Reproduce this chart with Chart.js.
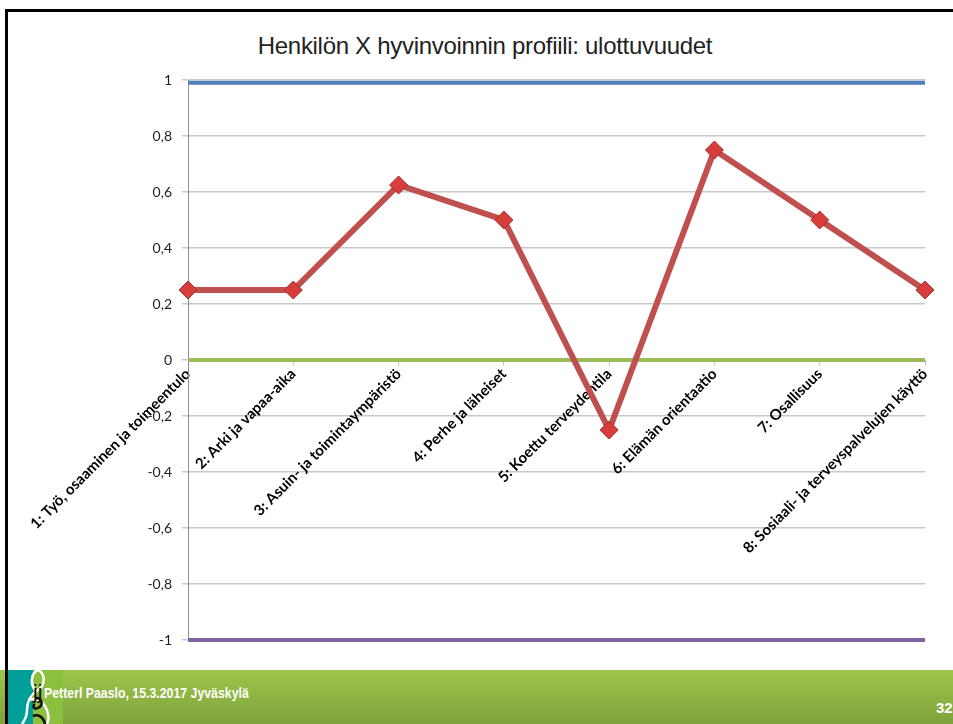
<!DOCTYPE html>
<html lang="fi">
<head>
    <meta charset="UTF-8">
    <title>Henkilön X hyvinvoinnin profiili</title>
    <style>
        body {
            margin: 0;
            padding: 0;
            width: 953px;
            height: 724px;
            background: #ffffff;
            overflow: hidden;
            position: relative;
            font-family: Lato, "Open Sans", sans-serif;
        }

        #chart-box {
            position: absolute;
            left: 0;
            top: 0;
            width: 953px;
            height: 668px;
        }

        h1 {
            position: absolute;
            left: 0;
            top: 32px;
            width: 970px;
            margin: 0;
            text-align: center;
            font-family: "Liberation Sans", Arial, sans-serif;
            font-weight: normal;
            font-size: 24px;
            line-height: 28px;
            color: #222;
            letter-spacing: -0.3px;
        }

        .border-top {
            position: absolute;
            left: 5px;
            top: 9px;
            width: 948px;
            height: 3px;
            background: #000;
        }

        .border-left {
            position: absolute;
            left: 5px;
            top: 9px;
            width: 3px;
            height: 715px;
            background: #000;
            z-index: 3;
        }

        .footer {
            position: absolute;
            left: 0;
            top: 670px;
            width: 953px;
            height: 54px;
            background: linear-gradient(#9dc64c, #7ea33a);
        }

        .footer .teal {
            position: absolute;
            left: 5px;
            top: 0;
            width: 28px;
            height: 54px;
            background: #009e98;
        }

        .footer .strip {
            position: absolute;
            left: 33px;
            top: 0;
            width: 30px;
            height: 54px;
            background: #8dbf3f;
        }

        .footer svg {
            position: absolute;
            left: 0;
            top: 0;
        }

        .footer .jj {
            position: absolute;
            left: 33px;
            top: 10px;
            color: #111;
            font-family: "Liberation Sans", Arial, sans-serif;
            font-size: 21px;
        }

        .footer .who {
            position: absolute;
            left: 44px;
            top: 15px;
            color: #fff;
            font-weight: bold;
            font-family: "Liberation Sans", Arial, sans-serif;
            font-size: 14px;
            transform: scaleX(0.88);
            transform-origin: left top;
            white-space: nowrap;
        }

        .footer .page {
            position: absolute;
            left: 936px;
            top: 29px;
            color: #fff;
            font-weight: bold;
            font-family: "Liberation Sans", Arial, sans-serif;
            font-size: 15px;
        }
    </style>
</head>
<body>
    <div class="border-top"></div>
    <div class="border-left"></div>
    <h1 id="chart-title"></h1>
    <div id="chart-box"><canvas id="profile-chart"></canvas></div>
    <div class="footer">
        <div class="teal"></div>
        <div class="strip"></div>
        <svg width="70" height="54" viewBox="0 0 70 54">
            <path d="M35 20 C 30 14, 31 3, 38 0 M 38 0 C 46 4, 45 16, 38 20 C 30 25, 27 32, 27 40 C 27 46, 25 50, 22 54" fill="none" stroke="#fff" stroke-width="2.5"/>
            <path d="M30 30 C 38 26, 46 34, 48 44 C 49 48, 48 52, 47 54" fill="none" stroke="#fff" stroke-width="2.5"/>
            <path d="M35 28 C 42 27, 44 35, 38 38 C 34 40, 32 36, 35 34" fill="none" stroke="#111" stroke-width="2.5"/>
            <path d="M33 46 C 38 44, 44 47, 45 54" fill="none" stroke="#111" stroke-width="2.5"/>
        </svg>
        <span class="jj">jj</span>
        <span class="who">Petterl Paaslo, 15.3.2017 Jyväskylä</span>
        <span class="page">32</span>
    </div>

    <script src="https://cdn.jsdelivr.net/npm/chart.js"></script>
    <script>
        const chartTitle = 'Henkilön X hyvinvoinnin profiili: ulottuvuudet';

        const categories = [
            '1: Työ, osaaminen ja toimeentulo',
            '2: Arki ja vapaa-aika',
            '3: Asuin- ja toimintaympäristö',
            '4: Perhe ja läheiset',
            '5: Koettu terveydentila',
            '6: Elämän orientaatio',
            '7: Osallisuus',
            '8: Sosiaali- ja terveyspalvelujen käyttö'
        ];

        const profileValues = [0.25, 0.25, 0.625, 0.5, -0.25, 0.75, 0.5, 0.25];
        const maxValues = [0.99, 0.99, 0.99, 0.99, 0.99, 0.99, 0.99, 0.99];
        const zeroValues = [0, 0, 0, 0, 0, 0, 0, 0];
        const minValues = [-1, -1, -1, -1, -1, -1, -1, -1];

        const yTickLabels = ['-1', '-0,8', '-0,6', '-0,4', '-0,2', '0', '0,2', '0,4', '0,6', '0,8', '1'];

        document.getElementById('chart-title').textContent = chartTitle;

        function flatLine(values, color) {
            return {
                data: values,
                borderColor: color,
                borderWidth: 4,
                pointRadius: 0,
                pointHoverRadius: 0,
                fill: false,
                clip: 6
            };
        }

        const ctx = document.getElementById('profile-chart').getContext('2d');
        new Chart(ctx, {
            type: 'line',
            data: {
                labels: categories,
                datasets: [
                    {
                        data: profileValues,
                        borderColor: '#c0504d',
                        borderWidth: 6,
                        pointStyle: 'rectRot',
                        pointRadius: 9,
                        pointBackgroundColor: '#d63d3b',
                        pointBorderColor: '#a5302d',
                        pointBorderWidth: 1,
                        fill: false,
                        clip: 12
                    },
                    flatLine(maxValues, '#4f81bd'),
                    flatLine(zeroValues, '#9bbb59'),
                    flatLine(minValues, '#8064a2')
                ]
            },
            options: {
                responsive: true,
                maintainAspectRatio: false,
                animation: false,
                layout: {
                    padding: { top: 80, left: 128, right: 28, bottom: 28 }
                },
                plugins: {
                    legend: { display: false },
                    tooltip: { enabled: false },
                    title: { display: false }
                },
                scales: {
                    x: {
                        position: { y: 0 },
                        grid: {
                            display: true,
                            drawOnChartArea: false,
                            drawTicks: true,
                            tickLength: 5,
                            color: '#bfbfbf'
                        },
                        border: { display: false },
                        ticks: {
                            autoSkip: false,
                            minRotation: 45,
                            maxRotation: 45,
                            padding: 0,
                            color: '#000',
                            font: { family: 'Lato, "Open Sans", sans-serif', size: 15, weight: 'bold' }
                        }
                    },
                    y: {
                        min: -1,
                        max: 1,
                        afterFit: function (scale) { scale.width = 60; },
                        grid: {
                            color: '#c8c8c8',
                            lineWidth: 1.5,
                            tickLength: 6
                        },
                        border: { color: '#8c8c8c', width: 1 },
                        ticks: {
                            stepSize: 0.2,
                            padding: 10,
                            color: '#222',
                            font: { family: 'Lato, "Open Sans", sans-serif', size: 14 },
                            callback: function (value, index) { return yTickLabels[index]; }
                        }
                    }
                }
            }
        });
    </script>
</body>
</html>
